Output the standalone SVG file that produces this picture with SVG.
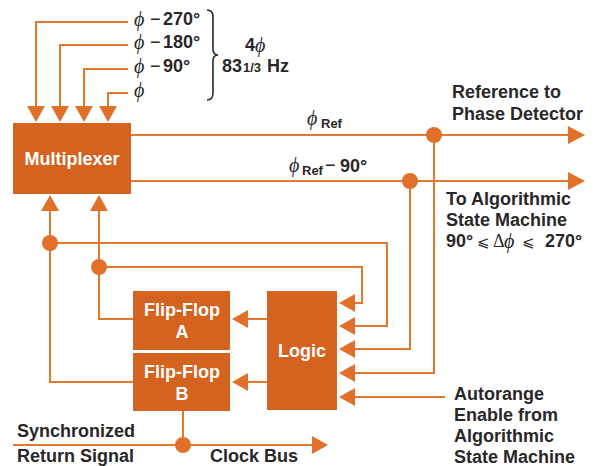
<svg xmlns="http://www.w3.org/2000/svg" width="596" height="466" viewBox="0 0 596 466">
<style>
.box{fill:#d4631f}
.ln{fill:none;stroke:#e4782f;stroke-width:2}
.ah{fill:#e0702a}
.dot{fill:#e0702a}
.wt{font-family:"Liberation Sans",Arial,sans-serif;font-weight:bold;font-size:18px;fill:#ffffff;text-anchor:middle}
.lb{font-family:"Liberation Sans",Arial,sans-serif;font-weight:bold;font-size:18px;fill:#2a2729}
.sub{font-family:"Liberation Sans",Arial,sans-serif;font-weight:bold;font-size:13px;fill:#2a2729}
.gr{font-family:"Liberation Serif","DejaVu Serif",serif;font-style:italic;font-size:20px;fill:#2a2729}
.mn{font-family:"Liberation Sans",Arial,sans-serif;font-size:18px;fill:#2a2729}
.le{font-family:"DejaVu Sans",sans-serif;font-size:15px;fill:#2a2729}
.br{fill:none;stroke:#2a2729;stroke-width:1.6}
</style>
<rect width="596" height="466" fill="#ffffff"/>
<g id="connectors">
<path class="ln" d="M128,22 H36 V108"/>
<path class="ln" d="M128,45 H60 V108"/>
<path class="ln" d="M128,69 H84 V108"/>
<path class="ln" d="M128,93 H108 V108"/>
<polygon class="ah" points="36,122 27,106 45,106"/>
<polygon class="ah" points="60,122 51,106 69,106"/>
<polygon class="ah" points="84,122 75,106 93,106"/>
<polygon class="ah" points="108,122 99,106 117,106"/>
<path class="ln" d="M131,135 H570"/>
<polygon class="ah" points="585,135 568,126 568,144"/>
<path class="ln" d="M131,181 H570"/>
<polygon class="ah" points="585,181 568,172 568,190"/>
<path class="ln" d="M434,135 V373 H354"/>
<path class="ln" d="M410,181 V349 H354"/>
<path class="ln" d="M50,243 H387 V326 H354"/>
<path class="ln" d="M99,267 H362 V303 H354"/>
<path class="ln" d="M445,397 H354"/>
<polygon class="ah" points="339,303 355,294 355,312"/>
<polygon class="ah" points="339,326 355,317 355,335"/>
<polygon class="ah" points="339,349 355,340 355,358"/>
<polygon class="ah" points="339,373 355,364 355,382"/>
<polygon class="ah" points="339,397 355,388 355,406"/>
<path class="ln" d="M50,210 V382 H133"/>
<path class="ln" d="M99,210 V319 H133"/>
<polygon class="ah" points="50,195 41,211 59,211"/>
<polygon class="ah" points="99,195 90,211 108,211"/>
<path class="ln" d="M267,319 H246"/>
<path class="ln" d="M267,382 H246"/>
<polygon class="ah" points="232,319 248,310 248,328"/>
<polygon class="ah" points="232,382 248,373 248,391"/>
<path class="ln" d="M183,411 V445"/>
<path class="ln" d="M13,445 H314"/>
<polygon class="ah" points="328,445 312,436 312,454"/>
<circle class="dot" cx="434" cy="135" r="8"/>
<circle class="dot" cx="410" cy="181" r="8"/>
<circle class="dot" cx="50" cy="243" r="8"/>
<circle class="dot" cx="99" cy="267" r="8"/>
<circle class="dot" cx="183" cy="445" r="8"/>
</g>
<g id="multiplexer">
<rect class="box" x="13" y="123" width="118" height="71"/>
<text class="wt" x="72" y="165">Multiplexer</text>
</g>
<g id="flipflop-a">
<rect class="box" x="133" y="291" width="97" height="59"/>
<text class="wt" x="182" y="316">Flip-Flop</text>
<text class="wt" x="182" y="338">A</text>
</g>
<g id="flipflop-b">
<rect class="box" x="133" y="353" width="97" height="58"/>
<text class="wt" x="182" y="378">Flip-Flop</text>
<text class="wt" x="182" y="400">B</text>
</g>
<g id="logic">
<rect class="box" x="267" y="291" width="70" height="119"/>
<text class="wt" x="302" y="357">Logic</text>
</g>
<g id="phase-labels">
<text class="gr" x="134" y="26">ϕ</text><text class="mn" x="150" y="25">−</text><text class="lb" x="163" y="25">270°</text>
<text class="gr" x="134" y="49">ϕ</text><text class="mn" x="150" y="48">−</text><text class="lb" x="163" y="48">180°</text>
<text class="gr" x="134" y="73">ϕ</text><text class="mn" x="150" y="72">−</text><text class="lb" x="163" y="72">90°</text>
<text class="gr" x="134" y="97">ϕ</text>
<path class="br" d="M207,10 Q213,10 213,17 L213,49 Q213,55 218,55 Q213,55 213,61 L213,93 Q213,100 207,100"/>
<text class="lb" x="245" y="51">4</text><text class="gr" x="255" y="52">ϕ</text>
<text class="lb" x="222" y="72">83</text><text class="sub" x="243" y="72">1/3</text><text class="lb" x="267" y="72">Hz</text>
</g>
<g id="output-labels">
<text class="gr" x="307" y="125">ϕ</text><text class="sub" x="321" y="128">Ref</text>
<text class="gr" x="289" y="172">ϕ</text><text class="sub" x="302" y="175">Ref</text><text class="mn" x="325" y="171">−</text><text class="lb" x="340" y="172">90°</text>
<text class="lb" x="452" y="98">Reference to</text>
<text class="lb" x="452" y="120">Phase Detector</text>
<text class="lb" x="446" y="205">To Algorithmic</text>
<text class="lb" x="446" y="226">State Machine</text>
<text class="lb" x="446" y="247">90°</text><text class="le" x="477" y="247">⩽</text><text class="gr" x="493" y="247" style="font-style:normal;font-size:18px">Δ</text><text class="gr" x="504" y="248">ϕ</text><text class="le" x="522" y="247">⩽</text><text class="lb" x="545" y="247">270°</text>
<text class="lb" x="454" y="400">Autorange</text>
<text class="lb" x="454" y="421">Enable from</text>
<text class="lb" x="454" y="442">Algorithmic</text>
<text class="lb" x="454" y="463">State Machine</text>
<text class="lb" x="17" y="437">Synchronized</text>
<text class="lb" x="17" y="462">Return Signal</text>
<text class="lb" x="210" y="462">Clock Bus</text>
</g>
</svg>
